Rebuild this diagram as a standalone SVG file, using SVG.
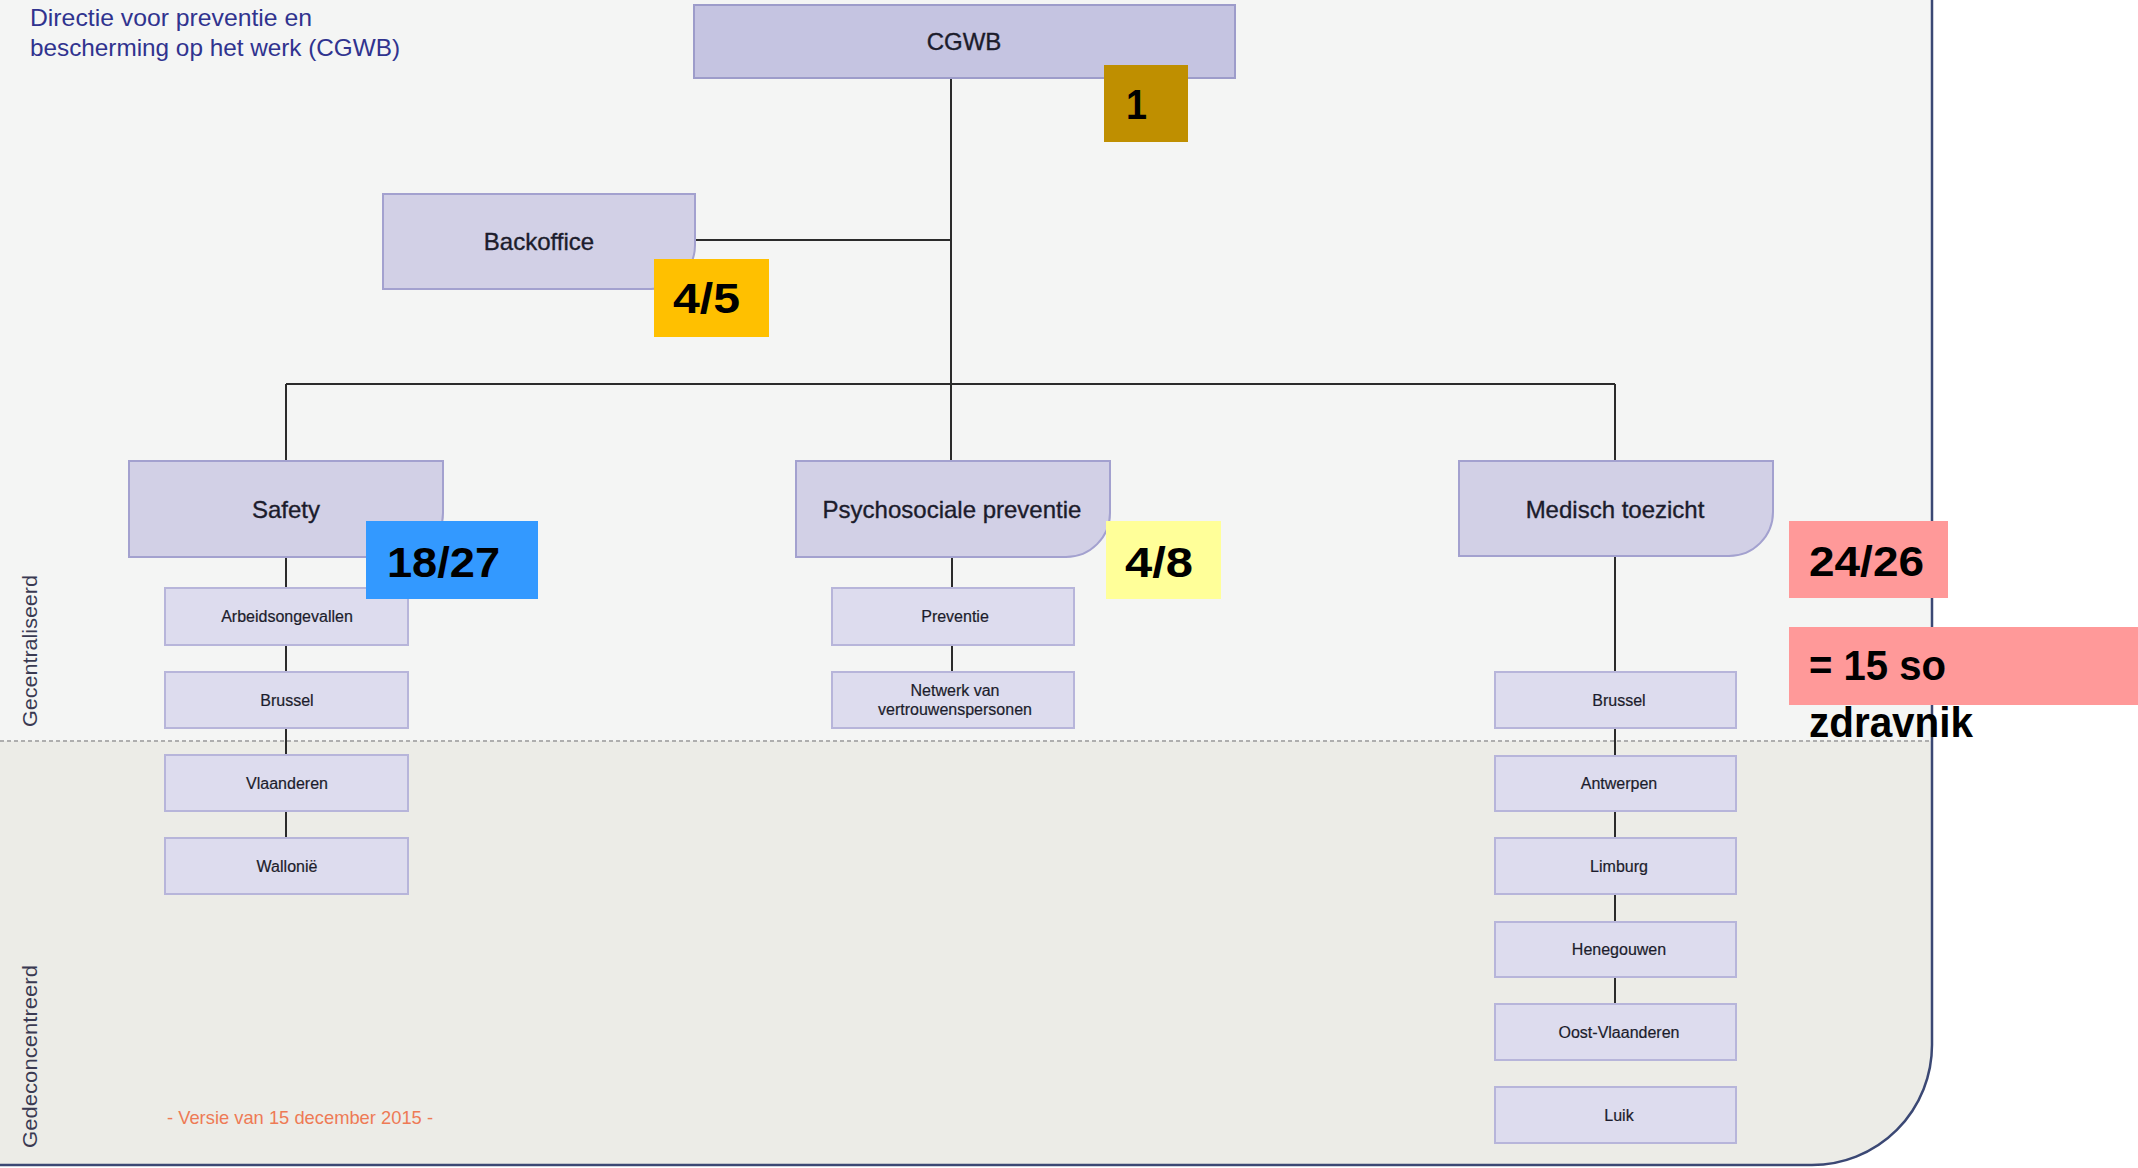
<svg xmlns="http://www.w3.org/2000/svg" width="2138" height="1168" viewBox="0 0 2138 1168">
<style>
.lbl{font-family:"Liberation Sans",Arial,sans-serif;fill:#1c1c2c;text-anchor:middle}
.big{font-size:24px;stroke:#1c1c2c;stroke-width:0.35}
.sml{font-size:16px;stroke:#1c1c2c;stroke-width:0.2}
.box1{fill:#c5c4e1;stroke:#9d9cca;stroke-width:2}
.box2{fill:#d2d0e6;stroke:#a3a1cf;stroke-width:2}
.box3{fill:#dddcee;stroke:#b7b5da;stroke-width:2}
.con{stroke:#2b2b2b;stroke-width:2;fill:none}
.badge{font-family:"Liberation Sans",Arial,sans-serif;font-weight:bold;font-size:42px;fill:#000}
.side{font-family:"Liberation Sans",Arial,sans-serif;font-size:21px;fill:#3a3a52}
</style>
<rect x="0" y="0" width="2138" height="1168" fill="#ffffff"/>
<path d="M0,0 H1932 V1045 A120,120 0 0 1 1812,1165 H0 Z" fill="#ecece7"/>
<rect x="0" y="0" width="1932" height="741" fill="#f4f5f4"/>
<line x1="0" y1="741" x2="1932" y2="741" stroke="#aeaeae" stroke-width="2" stroke-dasharray="4 3"/>
<path d="M1932,0 V1045 A120,120 0 0 1 1812,1165 H0" fill="none" stroke="#3b4874" stroke-width="2.5"/>

<g id="title">
<text x="30" y="26" font-family="Liberation Sans,Arial,sans-serif" font-size="24" fill="#30338f" textLength="282" lengthAdjust="spacingAndGlyphs">Directie voor preventie en</text>
<text x="30" y="56" font-family="Liberation Sans,Arial,sans-serif" font-size="24" fill="#30338f" textLength="370" lengthAdjust="spacingAndGlyphs">bescherming op het werk (CGWB)</text>
</g>

<g id="side-labels">
<text class="side" transform="translate(37,727) rotate(-90)" textLength="152" lengthAdjust="spacingAndGlyphs">Gecentraliseerd</text>
<text class="side" transform="translate(37,1148) rotate(-90)" textLength="183" lengthAdjust="spacingAndGlyphs">Gedeconcentreerd</text>
</g>

<g id="version">
<text x="167" y="1124" font-family="Liberation Sans,Arial,sans-serif" font-size="19" fill="#ee7a55" textLength="266" lengthAdjust="spacingAndGlyphs">- Versie van 15 december 2015 -</text>
</g>

<g id="connectors">
<line class="con" x1="951" y1="78" x2="951" y2="461"/>
<line class="con" x1="695" y1="240" x2="951" y2="240"/>
<line class="con" x1="286" y1="384" x2="1615" y2="384"/>
<line class="con" x1="286" y1="384" x2="286" y2="461"/>
<line class="con" x1="1615" y1="384" x2="1615" y2="461"/>
<line class="con" x1="286" y1="557" x2="286" y2="588"/>
<line class="con" x1="286" y1="645" x2="286" y2="672"/>
<line class="con" x1="286" y1="728" x2="286" y2="755"/>
<line class="con" x1="286" y1="811" x2="286" y2="838"/>
<line class="con" x1="952" y1="557" x2="952" y2="588"/>
<line class="con" x1="952" y1="645" x2="952" y2="672"/>
<line class="con" x1="1615" y1="556" x2="1615" y2="672"/>
<line class="con" x1="1615" y1="728" x2="1615" y2="756"/>
<line class="con" x1="1615" y1="811" x2="1615" y2="838"/>
<line class="con" x1="1615" y1="894" x2="1615" y2="922"/>
<line class="con" x1="1615" y1="977" x2="1615" y2="1004"/>
</g>

<g id="cgwb">
<rect class="box1" x="694" y="5" width="541" height="73"/>
<text class="lbl big" x="964" y="50">CGWB</text>
</g>
<g id="backoffice">
<path class="box2" d="M383,194 H695 V245 A44,44 0 0 1 651,289 H383 Z"/>
<text class="lbl big" x="539" y="250">Backoffice</text>
</g>
<g id="safety">
<path class="box2" d="M129,461 H443 V513 A44,44 0 0 1 399,557 H129 Z"/>
<text class="lbl big" x="286" y="518">Safety</text>
</g>
<g id="psychosociale">
<path class="box2" d="M796,461 H1110 V513 A44,44 0 0 1 1066,557 H796 Z"/>
<text class="lbl big" x="952" y="518">Psychosociale preventie</text>
</g>
<g id="medisch">
<path class="box2" d="M1459,461 H1773 V512 A44,44 0 0 1 1729,556 H1459 Z"/>
<text class="lbl big" x="1615" y="518">Medisch toezicht</text>
</g>

<g id="s-arbeid"><rect class="box3" x="165" y="588" width="243" height="57"/><text class="lbl sml" x="287" y="622">Arbeidsongevallen</text></g>
<g id="s-brussel"><rect class="box3" x="165" y="672" width="243" height="56"/><text class="lbl sml" x="287" y="706">Brussel</text></g>
<g id="s-vlaanderen"><rect class="box3" x="165" y="755" width="243" height="56"/><text class="lbl sml" x="287" y="789">Vlaanderen</text></g>
<g id="s-wallonie"><rect class="box3" x="165" y="838" width="243" height="56"/><text class="lbl sml" x="287" y="872">Wallonië</text></g>

<g id="p-preventie"><rect class="box3" x="832" y="588" width="242" height="57"/><text class="lbl sml" x="955" y="622">Preventie</text></g>
<g id="p-netwerk"><rect class="box3" x="832" y="672" width="242" height="56"/><text class="lbl sml" x="955" y="696">Netwerk van</text><text class="lbl sml" x="955" y="715">vertrouwenspersonen</text></g>

<g id="m-brussel"><rect class="box3" x="1495" y="672" width="241" height="56"/><text class="lbl sml" x="1619" y="706">Brussel</text></g>
<g id="m-antwerpen"><rect class="box3" x="1495" y="756" width="241" height="55"/><text class="lbl sml" x="1619" y="789">Antwerpen</text></g>
<g id="m-limburg"><rect class="box3" x="1495" y="838" width="241" height="56"/><text class="lbl sml" x="1619" y="872">Limburg</text></g>
<g id="m-henegouwen"><rect class="box3" x="1495" y="922" width="241" height="55"/><text class="lbl sml" x="1619" y="955">Henegouwen</text></g>
<g id="m-oostvlaanderen"><rect class="box3" x="1495" y="1004" width="241" height="56"/><text class="lbl sml" x="1619" y="1038">Oost-Vlaanderen</text></g>
<g id="m-luik"><rect class="box3" x="1495" y="1087" width="241" height="56"/><text class="lbl sml" x="1619" y="1121">Luik</text></g>

<g id="badge-1"><rect x="1104" y="65" width="84" height="77" fill="#bf8f00"/><text class="badge" x="1126" y="119" textLength="21" lengthAdjust="spacingAndGlyphs">1</text></g>
<g id="badge-4-5"><rect x="654" y="259" width="115" height="78" fill="#ffc000"/><text class="badge" x="673" y="313" textLength="67" lengthAdjust="spacingAndGlyphs">4/5</text></g>
<g id="badge-18-27"><rect x="366" y="521" width="172" height="78" fill="#3399ff"/><text class="badge" x="387" y="577" textLength="113" lengthAdjust="spacingAndGlyphs">18/27</text></g>
<g id="badge-4-8"><rect x="1106" y="521" width="115" height="78" fill="#ffff99"/><text class="badge" x="1125" y="577" textLength="68" lengthAdjust="spacingAndGlyphs">4/8</text></g>
<g id="badge-24-26"><rect x="1789" y="521" width="159" height="77" fill="#ff9999"/><text class="badge" x="1809" y="576" textLength="115" lengthAdjust="spacingAndGlyphs">24/26</text></g>
<g id="badge-15"><rect x="1789" y="627" width="349" height="78" fill="#ff9999"/><text class="badge" x="1809" y="680" textLength="137" lengthAdjust="spacingAndGlyphs">= 15 so</text><text class="badge" x="1809" y="737" textLength="164" lengthAdjust="spacingAndGlyphs">zdravnik</text></g>
</svg>
